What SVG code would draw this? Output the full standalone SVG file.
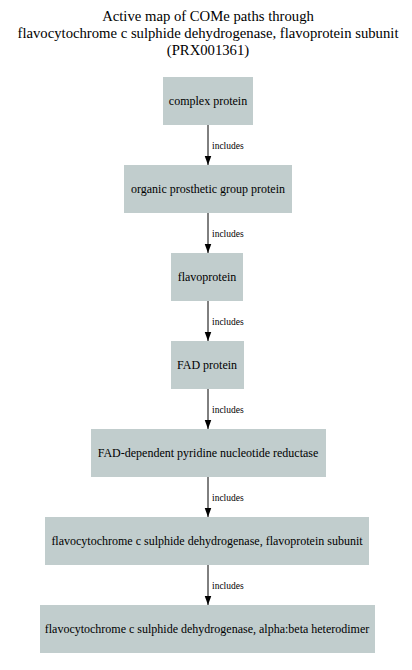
<svg xmlns="http://www.w3.org/2000/svg" width="412" height="670" viewBox="0 0 412 670">
<style>
.n{fill:#c1cdcd;stroke:none}
.t{font-family:"Liberation Serif",serif;font-size:12px;text-anchor:middle;fill:#000}
.h{font-family:"Liberation Serif",serif;font-size:14.7px;text-anchor:middle;fill:#000}
.l{font-family:"Liberation Serif",serif;font-size:9.5px;fill:#000}
.e{stroke:#000;stroke-width:1;fill:none}
</style>
<defs>
<marker id="a" markerWidth="10" markerHeight="12" refX="11" refY="5" orient="auto" markerUnits="userSpaceOnUse" viewBox="0 0 12 10">
<path d="M0,1 L11,5 L0,9 Z" fill="#000"/>
</marker>
</defs>
<rect width="412" height="670" fill="#fff"/>
<g id="title">
<text class="h" x="208" y="21">Active map of COMe paths through</text>
<text class="h" x="208" y="38">flavocytochrome c sulphide dehydrogenase, flavoprotein subunit</text>
<text class="h" x="208" y="55">(PRX001361)</text>
</g>
<g id="edges">
<line class="e" x1="208" y1="125" x2="208" y2="165" marker-end="url(#a)"/>
<text class="l" x="212" y="149">includes</text>
<line class="e" x1="208" y1="213" x2="208" y2="253" marker-end="url(#a)"/>
<text class="l" x="212" y="237">includes</text>
<line class="e" x1="208" y1="301" x2="208" y2="341" marker-end="url(#a)"/>
<text class="l" x="212" y="325">includes</text>
<line class="e" x1="208" y1="389" x2="208" y2="429" marker-end="url(#a)"/>
<text class="l" x="212" y="413">includes</text>
<line class="e" x1="208" y1="477" x2="208" y2="517" marker-end="url(#a)"/>
<text class="l" x="212" y="501">includes</text>
<line class="e" x1="208" y1="565" x2="208" y2="605" marker-end="url(#a)"/>
<text class="l" x="212" y="589">includes</text>
</g>
<g id="n1"><rect class="n" x="163" y="77" width="90" height="48"/><text class="t" x="208" y="105">complex protein</text></g>
<g id="n2"><rect class="n" x="124" y="165" width="168" height="48"/><text class="t" x="208" y="193">organic prosthetic group protein</text></g>
<g id="n3"><rect class="n" x="171" y="253" width="72" height="48"/><text class="t" x="207" y="281">flavoprotein</text></g>
<g id="n4"><rect class="n" x="171" y="341" width="73" height="48"/><text class="t" x="207" y="369">FAD protein</text></g>
<g id="n5"><rect class="n" x="91" y="429" width="235" height="48"/><text class="t" x="208" y="457">FAD-dependent pyridine nucleotide reductase</text></g>
<g id="n6"><rect class="n" x="45" y="517" width="324" height="48"/><text class="t" x="207" y="545">flavocytochrome c sulphide dehydrogenase, flavoprotein subunit</text></g>
<g id="n7"><rect class="n" x="40" y="605" width="335" height="48"/><text class="t" x="207" y="633">flavocytochrome c sulphide dehydrogenase, alpha:beta heterodimer</text></g>
</svg>
